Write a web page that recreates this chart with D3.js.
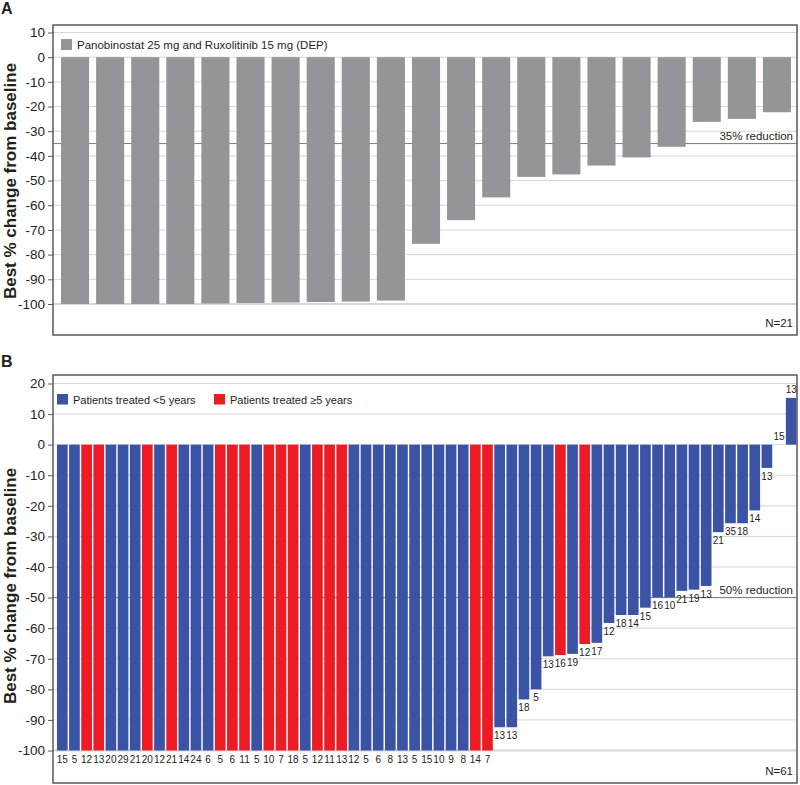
<!DOCTYPE html>
<html>
<head>
<meta charset="utf-8">
<script src="https://cdn.jsdelivr.net/npm/d3@7"></script>
<style>
  html, body { margin: 0; padding: 0; background: #fff; }
  svg { display: block; font-family: "Liberation Sans", Arial, sans-serif; }
</style>
</head>
<body>
<svg id="chart" width="800" height="785"></svg>
<script>
// ---------- Panel A data ----------
const aLegend = "Panobinostat 25 mg and Ruxolitinib 15 mg (DEP)";
const aValues = [-100, -100, -100, -100, -99.8, -99.6, -99.4, -99.2, -99, -98.6,
                 -75.6, -66, -56.8, -48.5, -47.5, -43.9, -40.6, -36.3, -26.2, -25, -22.3];
const aTicks = [10, 0, -10, -20, -30, -40, -50, -60, -70, -80, -90, -100];
const aThreshold = -35;
const aThresholdLabel = "35% reduction";
const aN = "N=21";

// ---------- Panel B data ----------
const bLegend = ["Patients treated <5 years", "Patients treated \u22655 years"];
const bValues = [
  -100, -100, -100, -100, -100, -100, -100, -100, -100, -100,
  -100, -100, -100, -100, -100, -100, -100, -100, -100, -100,
  -100, -100, -100, -100, -100, -100, -100, -100, -100, -100,
  -100, -100, -100, -100, -100, -100,
  -92.4, -92.4, -83.3, -80, -69.2, -68.8, -68.4, -65.2, -64.8, -58.3,
  -55.7, -55.7, -53.3, -49.9, -49.9, -47.8, -47.4, -46.2, -28.6, -25.7,
  -25.7, -21.5, -7.6, 0, 15.3
];
const bLabels = [
  15, 5, 12, 13, 20, 29, 21, 20, 12, 21,
  14, 24, 6, 5, 6, 11, 5, 10, 7, 18,
  5, 12, 11, 13, 12, 5, 6, 8, 13, 5,
  15, 10, 9, 8, 14, 7,
  13, 13, 18, 5, 13, 16, 19, 12, 17, 12,
  18, 14, 15, 16, 10, 21, 19, 13, 21, 35,
  18, 14, 13, 15, 13
];
// 0 = treated <5 years, 1 = treated >=5 years
const bGroups = [
  0, 0, 1, 1, 0, 0, 0, 1, 0, 1,
  0, 0, 0, 1, 1, 1, 0, 1, 1, 1,
  0, 1, 1, 1, 0, 0, 0, 0, 0, 0,
  0, 0, 0, 0, 1, 1,
  0, 0, 0, 0, 0, 1, 0, 1, 0, 0,
  0, 0, 0, 0, 0, 0, 0, 0, 0, 0,
  0, 0, 0, 0, 0
];
const bTicks = [20, 10, 0, -10, -20, -30, -40, -50, -60, -70, -80, -90, -100];
const bThreshold = -50;
const bThresholdLabel = "50% reduction";
const bN = "N=61";

const yTitle = "Best % change from baseline";
const colGray = "#939598", colBlue = "#3a53a4", colRed = "#ed1c24";
const gridCol = "#d6d6d6", frameCol = "#5a5a5a", textCol = "#231f20";

const svg = d3.select("#chart");

function panel(opts) {
  const g = svg.append("g");
  const {left, right, top, bottom} = opts.frame;
  const y = d3.scaleLinear().domain(opts.yDomain).range(opts.yRange);
  const x = d3.scaleBand().domain(d3.range(opts.values.length))
      .range(opts.xRange).paddingInner(opts.padIn).paddingOuter(opts.padOut);

  // gridlines
  g.append("g").selectAll("line").data(opts.ticks).join("line")
    .attr("x1", left).attr("x2", right)
    .attr("y1", d => y(d)).attr("y2", d => y(d))
    .attr("stroke", gridCol).attr("stroke-width", d => d === -100 ? 2 : 1);

  // threshold line
  g.append("line").attr("x1", left).attr("x2", right)
    .attr("y1", y(opts.threshold)).attr("y2", y(opts.threshold))
    .attr("stroke", "#7a7a7a").attr("stroke-width", 1);

  // bars
  g.append("g").selectAll("rect").data(opts.values).join("rect")
    .attr("x", (d, i) => x(i))
    .attr("width", x.bandwidth())
    .attr("y", d => y(Math.max(0, d)))
    .attr("height", d => Math.abs(y(d) - y(0)))
    .attr("fill", (d, i) => opts.color(i));

  // threshold label
  g.append("text").attr("x", right - 4).attr("y", y(opts.threshold) - 4)
    .attr("text-anchor", "end").attr("font-size", 11.5).attr("fill", textCol)
    .text(opts.thresholdLabel);

  // frame
  g.append("rect").attr("x", left).attr("y", top)
    .attr("width", right - left).attr("height", bottom - top)
    .attr("fill", "none").attr("stroke", frameCol).attr("stroke-width", 1.5);

  // axis
  const axis = d3.axisLeft(y).tickValues(opts.ticks).tickSize(5).tickPadding(3)
    .tickFormat(d3.format("d"));
  const ag = g.append("g").attr("transform", `translate(${left},0)`).call(axis);
  ag.select(".domain").remove();
  ag.selectAll(".tick line").attr("stroke", frameCol);
  ag.selectAll(".tick text").attr("font-size", 13.5).attr("fill", textCol)
    .attr("font-family", "Liberation Sans, Arial, sans-serif")
    .text(d => d < 0 ? "-" + Math.abs(d) : d);

  // y title
  g.append("text")
    .attr("transform", `translate(16,${opts.titleY}) rotate(-90)`)
    .attr("text-anchor", "middle").attr("font-size", 17).attr("font-weight", "bold")
    .attr("fill", textCol).text(yTitle);

  // N label
  g.append("text").attr("x", right - 4).attr("y", bottom - 8)
    .attr("text-anchor", "end").attr("font-size", 11.5).attr("fill", textCol)
    .text(opts.nLabel);

  // panel letter
  g.append("text").attr("x", 1).attr("y", opts.letterY)
    .attr("font-size", 16).attr("font-weight", "bold").attr("fill", textCol)
    .text(opts.letter);

  return {g, x, y};
}

// ---------- Panel A ----------
const A = panel({
  frame: {left: 53, right: 797, top: 25, bottom: 335},
  yDomain: [-100, 10], yRange: [304, 32.5],
  xRange: [54, 798], padIn: 0.2, padOut: 0.2,
  values: aValues, ticks: aTicks,
  threshold: aThreshold, thresholdLabel: aThresholdLabel,
  color: () => colGray, titleY: 181, nLabel: aN, letter: "A", letterY: 14
});
A.g.append("rect").attr("x", 61).attr("y", 39).attr("width", 11).attr("height", 11).attr("fill", colGray);
A.g.append("text").attr("x", 77).attr("y", 48.5).attr("font-size", 11.5).attr("fill", textCol).text(aLegend);

// ---------- Panel B ----------
const bColors = [colBlue, colRed];
const B = panel({
  frame: {left: 53, right: 797, top: 375, bottom: 783},
  yDomain: [-100, 20], yRange: [750.5, 383.5],
  xRange: [55.5, 798], padIn: 0.12, padOut: 0.12,
  values: bValues, ticks: bTicks,
  threshold: bThreshold, thresholdLabel: bThresholdLabel,
  color: i => bColors[bGroups[i]], titleY: 586, nLabel: bN, letter: "B", letterY: 367
});
// bar labels
B.g.append("g").selectAll("text").data(bValues).join("text")
  .attr("x", (d, i) => B.x(i) + B.x.bandwidth() / 2)
  .attr("y", d => d < 0 ? B.y(d) + 12 : B.y(d) - 5)
  .attr("text-anchor", "middle").attr("font-size", 10).attr("fill", textCol)
  .text((d, i) => bLabels[i]);
// legend
bLegend.forEach((t, k) => {
  const lx = k === 0 ? 57 : 214;
  B.g.append("rect").attr("x", lx).attr("y", 394).attr("width", 11).attr("height", 10.5).attr("fill", bColors[k]);
  B.g.append("text").attr("x", lx + 16).attr("y", 403.5).attr("font-size", 11).attr("fill", textCol).text(t);
});
</script>
</body>
</html>
